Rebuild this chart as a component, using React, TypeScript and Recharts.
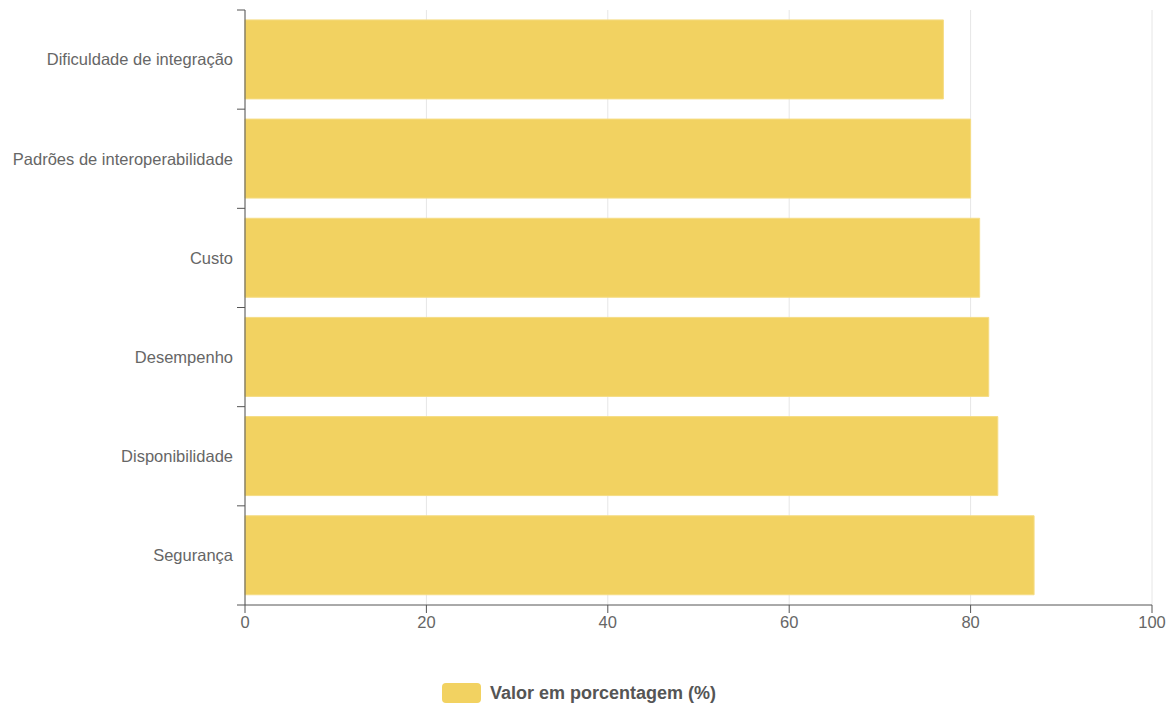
import React from "react";
import {
  BarChart,
  Bar,
  XAxis,
  YAxis,
  CartesianGrid,
  Legend,
} from "recharts";

const categories = [
  "Dificuldade de integração",
  "Padrões de interoperabilidade",
  "Custo",
  "Desempenho",
  "Disponibilidade",
  "Segurança",
];
const valores = [77, 80, 81, 82, 83, 87];
const xTicks = [0, 20, 40, 60, 80, 100];
const seriesName = "Valor em porcentagem (%)";

const BAR_COLOR = "#F2D261";
const BAR_BORDER = "#F5DC84";
const AXIS_COLOR = "#555555";
const TICK_SIZE = 8;
const TICK_MARGIN = 4;

const data = categories.map((c, i) => ({ categoria: c, valor: valores[i] }));

// category label + tick marks on the band edges (chart.js style)
function CategoryTick(props: any) {
  const { x, y, payload, index } = props;
  const half = payload.offset || 0;
  const axisX = x + TICK_SIZE + TICK_MARGIN;
  const isLast = index === categories.length - 1;
  return (
    <g>
      <text
        x={x}
        y={y}
        dy="0.355em"
        textAnchor="end"
        fill="#666"
        fontSize={16.5}
      >
        {payload.value}
      </text>
      <line
        x1={axisX - TICK_SIZE}
        x2={axisX}
        y1={y - half}
        y2={y - half}
        stroke={AXIS_COLOR}
      />
      {isLast && (
        <line
          x1={axisX - TICK_SIZE}
          x2={axisX}
          y1={y + half}
          y2={y + half}
          stroke={AXIS_COLOR}
        />
      )}
    </g>
  );
}

function LegendContent() {
  return (
    <div
      style={{
        display: "flex",
        alignItems: "center",
        justifyContent: "center",
        height: 20,
      }}
    >
      <div
        style={{
          width: 39,
          height: 20,
          background: BAR_COLOR,
          borderRadius: 4,
          marginRight: 9,
        }}
      />
      <span style={{ fontSize: 18, fontWeight: "bold", color: "#555" }}>
        {seriesName}
      </span>
    </div>
  );
}

export default function App() {
  return (
    <div
      style={{
        position: "fixed",
        left: 0,
        top: 0,
        width: 1171,
        height: 704,
        background: "#fff",
        fontFamily: "'Liberation Sans', Arial, sans-serif",
      }}
    >
      <BarChart
        width={1171}
        height={704}
        data={data}
        layout="vertical"
        barCategoryGap="10%"
        margin={{ top: 10, right: 19, left: 0, bottom: 1 }}
      >
        <CartesianGrid horizontal={false} stroke="#e6e6e6" />
        <XAxis
          type="number"
          domain={[0, 100]}
          ticks={xTicks}
          interval={0}
          height={78}
          tickSize={TICK_SIZE}
          tickMargin={3}
          axisLine={{ stroke: AXIS_COLOR }}
          tickLine={{ stroke: AXIS_COLOR }}
          tick={{ fill: "#666", fontSize: 16.5 }}
        />
        <YAxis
          type="category"
          dataKey="categoria"
          width={245}
          axisLine={{ stroke: AXIS_COLOR }}
          tickLine={false}
          tickSize={TICK_SIZE}
          tickMargin={TICK_MARGIN}
          interval={0}
          tick={<CategoryTick />}
        />
        <Legend
          verticalAlign="bottom"
          wrapperStyle={{ left: 0, width: 1158 }}
          content={() => <LegendContent />}
        />
        <Bar
          dataKey="valor"
          name={seriesName}
          fill={BAR_COLOR}
          stroke={BAR_BORDER}
          strokeWidth={1}
          isAnimationActive={false}
        />
      </BarChart>
    </div>
  );
}
